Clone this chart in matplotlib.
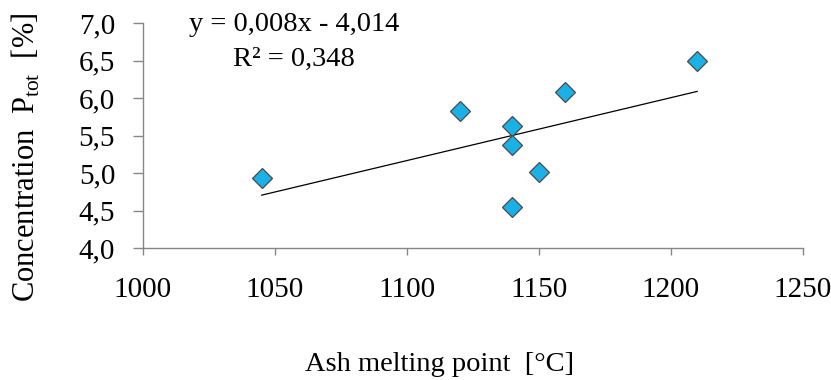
import numpy as np
import matplotlib
matplotlib.use("Agg")
import matplotlib.pyplot as plt

# ash melting point [°C] vs concentration P_tot [%]
melt = [1045, 1120, 1140, 1140, 1140, 1150, 1160, 1210]
ptot = [4.93, 5.83, 5.63, 5.37, 4.55, 5.01, 6.08, 6.50]
yticks = [4.0, 4.5, 5.0, 5.5, 6.0, 6.5, 7.0]
xticks = [1000, 1050, 1100, 1150, 1200, 1250]

plt.rcParams['font.family'] = ['Liberation Serif', 'DejaVu Serif']
grey = '#868686'

fig = plt.figure(figsize=(8.31, 3.8), dpi=100)
ax = fig.add_axes([0.172, 0.347, 0.794, 0.592])

# linear trendline over the data range
k, q = np.polyfit(melt, ptot, 1)
xs = np.array([min(melt), max(melt)])
ax.plot(xs, k * xs + q, color='black', lw=0.9, zorder=2)

ax.plot(melt, ptot, linestyle='none', marker='D', markersize=10.5,
        markerfacecolor='#1BB1E6', markeredgecolor='#4a4a4a',
        markeredgewidth=0.9, zorder=3)

ax.set_xlim(1000, 1250)
ax.set_ylim(4.0, 7.0)
ax.set_xticks(xticks)
ax.set_yticks(yticks)
ax.set_xticklabels([str(v) for v in xticks])
ax.set_yticklabels([f"{v:.1f}".replace('.', ',') for v in yticks])

for s in ['top', 'right']:
    ax.spines[s].set_visible(False)
for s in ['left', 'bottom']:
    ax.spines[s].set_color(grey)
    ax.spines[s].set_linewidth(1.0)
ax.tick_params(axis='both', colors=grey, labelcolor='black', labelsize=21,
               width=1.0, direction='out')
ax.tick_params(axis='x', length=5, pad=16)
ax.tick_params(axis='y', length=7, pad=13)

ax.set_xlabel('Ash melting point  [°C]', fontsize=20.5)
ax.set_ylabel(r'Concentration  P$_{\mathregular{tot}}$  [%]', fontsize=22)
ax.xaxis.set_label_coords(0.45, -0.462)
ax.yaxis.set_label_coords(-0.153, 0.405)

ax.text(0.07, 0.995, 'y = 0,008x - 4,014', transform=ax.transAxes,
        fontsize=20.5, ha='left', va='center')
ax.text(0.137, 0.84, 'R² = 0,348', transform=ax.transAxes,
        fontsize=20.5, ha='left', va='center')

fig.savefig('out.png', dpi=100)
